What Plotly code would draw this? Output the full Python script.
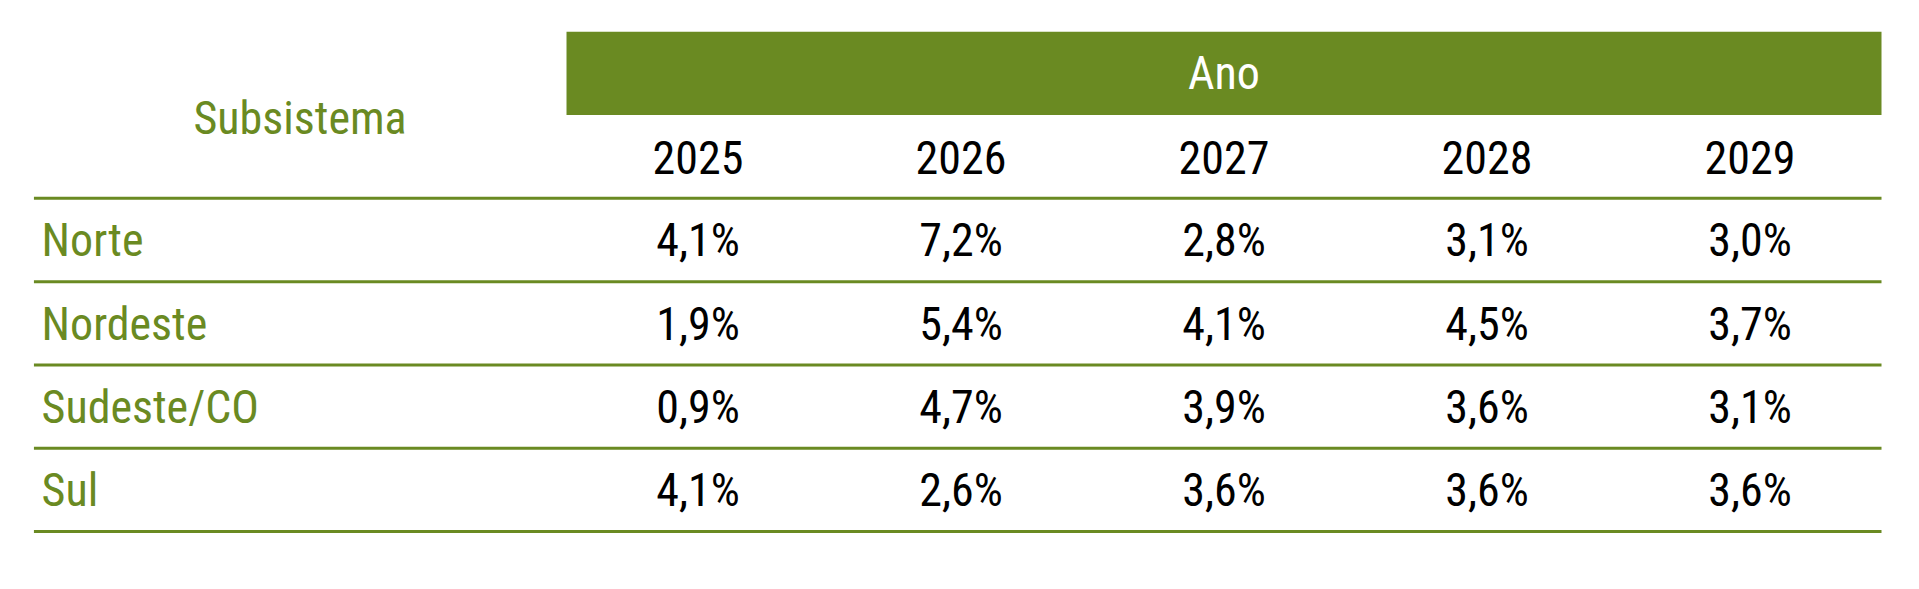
import plotly.graph_objects as go

# ---- data ----
subsistemas = ["Norte", "Nordeste", "Sudeste/CO", "Sul"]
anos = ["2025", "2026", "2027", "2028", "2029"]
norte = ["4,1%", "7,2%", "2,8%", "3,1%", "3,0%"]
nordeste = ["1,9%", "5,4%", "4,1%", "4,5%", "3,7%"]
sudeste_co = ["0,9%", "4,7%", "3,9%", "3,6%", "3,1%"]
sul = ["4,1%", "2,6%", "3,6%", "3,6%", "3,6%"]
header_group = "Ano"
header_label = "Subsistema"
rows = [norte, nordeste, sudeste_co, sul]

# ---- style ----
GREEN = "#6a8a22"
FONT = "Roboto Condensed, DejaVu Sans Condensed, sans-serif"
FS = 46
DY = 0.06  # vertical nudge of text inside its row

ncol = len(anos)
nrow = len(subsistemas)
col_x = list(range(1, ncol + 1))
label_x = -1.496

fig = go.Figure()

# header band
fig.add_shape(type="rect", x0=0.5, x1=ncol + 0.5, y0=-2.5, y1=-1.5,
              xref="x", yref="y", fillcolor=GREEN, line_width=0, layer="below")
# horizontal rules
for r in range(nrow + 1):
    fig.add_shape(type="line", x0=-1.525, x1=ncol + 0.5, y0=r - 0.5, y1=r - 0.5,
                  xref="x", yref="y", line=dict(color=GREEN, width=3))

# "Ano" header
fig.add_trace(go.Scatter(x=[(1 + ncol) / 2], y=[-2.01 + DY], mode="text", text=[header_group],
                         textfont=dict(family=FONT, size=FS, color="white"),
                         hoverinfo="skip", showlegend=False))
# "Subsistema"
fig.add_trace(go.Scatter(x=[-0.513], y=[-1.47 + DY], mode="text", text=[header_label],
                         textfont=dict(family=FONT, size=FS, color=GREEN),
                         hoverinfo="skip", showlegend=False))
# years
fig.add_trace(go.Scatter(x=col_x, y=[-0.99 + DY] * ncol, mode="text", text=anos,
                         textfont=dict(family=FONT, size=FS, color="black"),
                         hoverinfo="skip", showlegend=False))
# row labels
fig.add_trace(go.Scatter(x=[label_x] * nrow, y=[r + DY for r in range(nrow)], mode="text",
                         text=subsistemas, textposition="middle right",
                         textfont=dict(family=FONT, size=FS, color=GREEN),
                         hoverinfo="skip", showlegend=False))
# values
for r, vals in enumerate(rows):
    fig.add_trace(go.Scatter(x=col_x, y=[r + DY] * ncol, mode="text", text=vals,
                             textfont=dict(family=FONT, size=FS, color="black"),
                             hoverinfo="skip", showlegend=False))

# ranges compensate the 8px default page margin around the plot div
fig.update_layout(
    width=1919, height=589,
    margin=dict(l=0, r=0, t=0, b=0),
    paper_bgcolor="white", plot_bgcolor="white",
    xaxis=dict(range=[-1.6236, 5.673], visible=False, fixedrange=True),
    yaxis=dict(range=[4.286, -2.785], visible=False, fixedrange=True),
)

fig.write_html("out.html", config={"displayModeBar": False})
